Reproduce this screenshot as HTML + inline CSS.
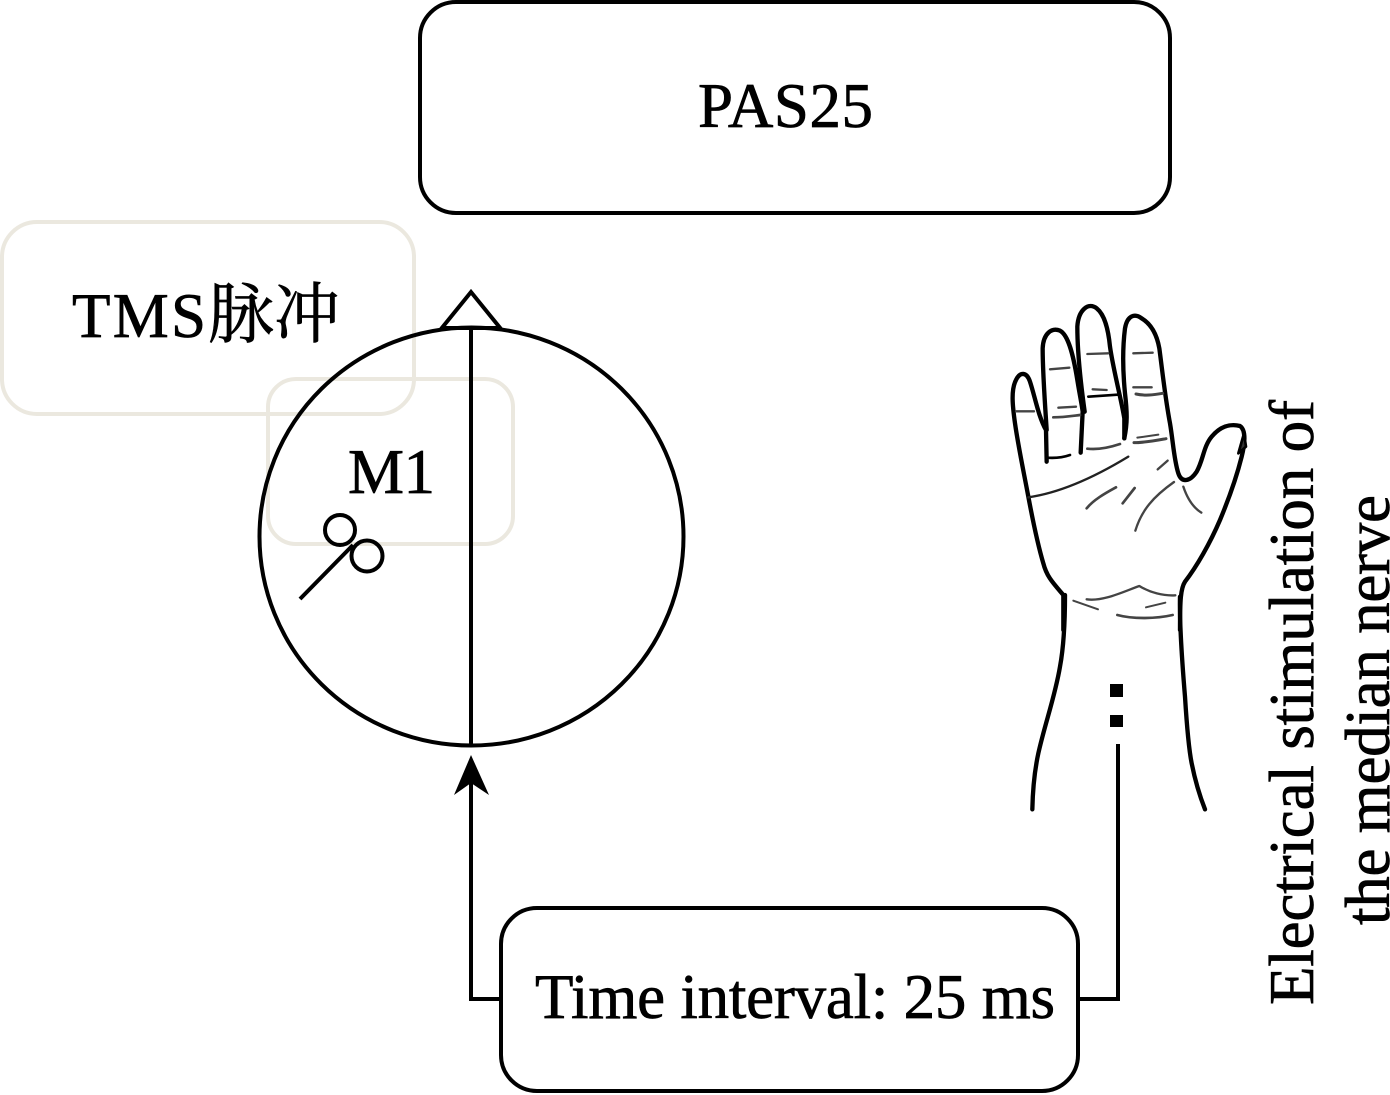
<!DOCTYPE html>
<html><head><meta charset="utf-8"><style>
html,body{margin:0;padding:0;background:#fff}
svg{display:block}
text{font-family:"Liberation Serif","Noto Serif CJK SC",serif;font-size:63px;fill:#000;stroke:#000;stroke-width:.7px}
</style></head><body>
<svg width="1390" height="1095" viewBox="0 0 1390 1095" xmlns="http://www.w3.org/2000/svg">
<rect width="1390" height="1095" fill="#fff"/>
<rect x="2" y="222" width="412" height="192" rx="35" fill="none" stroke="#ebe8df" stroke-width="4"/>
<rect x="268" y="379" width="245" height="165" rx="28" fill="none" stroke="#ebe8df" stroke-width="4"/>
<rect x="420" y="2" width="750" height="211" rx="36" fill="none" stroke="#000" stroke-width="4"/>
<rect x="501" y="908" width="577" height="183" rx="36" fill="none" stroke="#000" stroke-width="4"/>
<ellipse cx="471.5" cy="536.5" rx="212" ry="209" fill="none" stroke="#000" stroke-width="4"/>
<polyline points="441,329 471,292 501,329" fill="none" stroke="#000" stroke-width="4"/>
<line x1="441" y1="328" x2="501" y2="328" stroke="#000" stroke-width="4"/>
<line x1="471" y1="328" x2="471" y2="746" stroke="#000" stroke-width="4"/>
<polyline points="471,780 471,999 501,999" fill="none" stroke="#000" stroke-width="4"/>
<polygon points="471,755 489,795 471,783 454,795" fill="#000"/>
<polyline points="1078,999 1118,999 1118,744" fill="none" stroke="#000" stroke-width="4"/>
<rect x="1110" y="684" width="13" height="13" fill="#000"/>
<rect x="1110" y="715" width="13" height="12" fill="#000"/>
<circle cx="340" cy="530" r="15" fill="none" stroke="#000" stroke-width="4"/>
<circle cx="367" cy="556" r="15.5" fill="none" stroke="#000" stroke-width="4"/>
<line x1="300" y1="599" x2="353" y2="545" stroke="#000" stroke-width="4"/>
<text x="698" y="127" textLength="175">PAS25</text>
<text x="72" y="337" textLength="134">TMS</text>
<text x="208" y="337" style="font-size:66px" textLength="132">脉冲</text>
<text x="348" y="493" textLength="87">M1</text>
<text x="535" y="1018" textLength="520">Time interval: 25 ms</text>
<text transform="translate(1313,1005) rotate(-90)" textLength="605">Electrical stimulation of</text>
<text transform="translate(1389,925) rotate(-90)" textLength="430">the median nerve</text>
<g transform="translate(990,290) scale(.33333)" fill="none" stroke="#000" stroke-linecap="round" stroke-linejoin="round">
<path stroke-width="13" d="M220 1020 L220 915 C190 880 170 860 160 820 C145 770 130 700 115 620 C100 540 85 470 75 400 C68 350 62 300 78 270 C90 245 110 245 120 275 C135 320 145 380 168 420 L170 515"/>
<path stroke-width="13" d="M170 420 C165 340 158 250 158 175 C160 130 185 112 210 122 C235 135 250 195 262 270 C270 320 275 340 278 365 L272 488"/>
<path stroke-width="13" d="M284 365 C275 300 262 190 262 110 C265 60 295 35 320 55 C345 75 355 120 360 170 C370 240 392 320 403 385 L403 445"/>
<path stroke-width="13" d="M403 445 C412 400 412 370 405 310 C398 240 398 170 405 115 C412 75 435 70 455 85 C480 100 500 130 508 175 C518 250 525 320 540 400 C550 460 552 510 565 550 C575 580 600 575 620 545 C640 510 640 470 665 440 C690 410 720 400 750 408 C768 420 765 460 755 500 C740 560 715 630 690 690 C660 760 620 830 585 875 C572 895 570 930 570 1020"/>
<path stroke-width="8" d="M745 490 L762 430 L768 470 Z" fill="#333"/>
<path stroke-width="7" stroke="#222" d="M115 622 C200 610 300 570 415 500"/>
<path stroke-width="8" d="M170 503 C195 505 220 502 240 495"/>
<path stroke-width="8" d="M295 320 L382 314"/>
<g stroke="#444">
<path stroke-width="7" d="M78 364 L132 364"/>
<path stroke-width="7" d="M180 238 L238 233"/>
<path stroke-width="7" d="M205 353 L258 350"/>
<path stroke-width="8" d="M190 382 C220 382 245 378 270 375"/>
<path stroke-width="7" d="M292 192 L355 190"/>
<path stroke-width="7" d="M308 298 L350 300"/>
<path stroke-width="7" d="M430 190 L488 188"/>
<path stroke-width="7" d="M430 292 L485 292"/>
<path stroke-width="9" d="M438 312 C465 318 490 315 518 310"/>
<path stroke-width="8" d="M292 476 C325 480 360 472 390 462"/>
<path stroke-width="6" d="M442 443 L505 434"/>
<path stroke-width="9" d="M432 458 C465 458 495 452 528 446"/>
<path stroke-width="7" d="M503 538 L533 512"/>
<path stroke-width="8" d="M290 655 C310 630 345 610 378 592"/>
<path stroke-width="8" d="M398 640 L434 594"/>
<path stroke-width="7" d="M436 722 C455 660 490 620 552 576"/>
<path stroke-width="7" d="M580 590 C590 620 605 650 634 668"/>
<path stroke-width="7" d="M290 928 C340 935 400 905 448 888 C480 908 520 918 556 916"/>
<path stroke-width="6" d="M250 932 L324 958"/>
<path stroke-width="6" d="M468 952 L526 938"/>
<path stroke-width="8" d="M382 975 C430 988 500 986 548 975"/>
</g>
</g>
<g transform="translate(1010,580) scale(.33333)" fill="none" stroke="#000" stroke-width="13" stroke-linecap="round">
<path d="M165 45 C165 110 163 190 150 260 C135 350 105 430 85 520 C72 580 68 640 67 688"/>
<path d="M510 50 C508 130 515 230 525 350 C530 430 535 500 545 550 C555 600 570 650 585 688"/>
</g>
</svg>
</body></html>
